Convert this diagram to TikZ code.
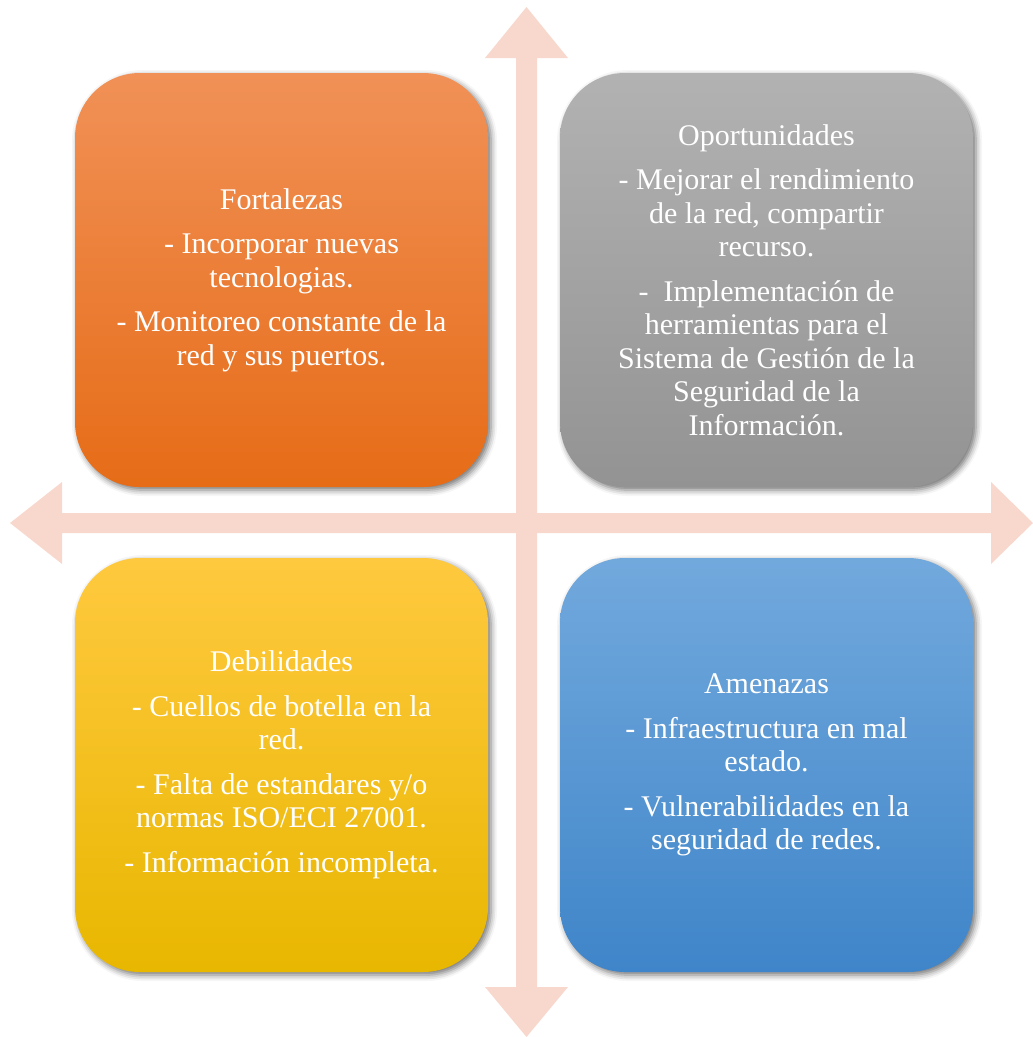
\documentclass[tikz,border=0pt]{standalone}
\usepackage{fontspec}
\setmainfont{Liberation Serif}
\usetikzlibrary{shadows.blur}
\definecolor{arrowpink}{HTML}{F8D8CD}
\definecolor{orT}{HTML}{F19157}
\definecolor{orB}{HTML}{E66C17}
\definecolor{grT}{HTML}{B2B2B2}
\definecolor{grB}{HTML}{939393}
\definecolor{yeT}{HTML}{FFC93F}
\definecolor{yeB}{HTML}{E8B700}
\definecolor{blT}{HTML}{72A9DD}
\definecolor{blB}{HTML}{3F85C9}
\tikzset{
  quad/.style={rounded corners=65pt, minimum width=413pt, minimum height=414pt,
    inner sep=0pt, text=white, align=center,
    font=\fontsize{30}{33.5}\selectfont,
    blur shadow={shadow xshift=3pt, shadow yshift=-3pt, shadow blur radius=6pt, shadow opacity=55}},
  cross/.style={fill=arrowpink, draw=none}
}
\begin{document}
\begin{tikzpicture}[x=1pt,y=-1pt]
\useasboundingbox (0,0) rectangle (1033,1037);
% vertical double arrow
\fill[cross] (526.5,7) -- (568,58) -- (537,58) -- (537,987) -- (568,987) -- (526.5,1037)
  -- (485,987) -- (516,987) -- (516,58) -- (485,58) -- cycle;
% horizontal double arrow
\fill[cross] (10,523) -- (62,482) -- (62,513) -- (991,513) -- (991,482) -- (1033,523)
  -- (991,564) -- (991,533) -- (62,533) -- (62,564) -- cycle;
% boxes
\node[quad, top color=orT, bottom color=orB] (fort) at (281.5,280)
  {Fortalezas\\[11pt]- Incorporar nuevas\\tecnologias.\\[11pt]- Monitoreo constante de la\\red y sus puertos.};
\node[quad, top color=grT, bottom color=grB] (opor) at (766.5,280)
  {Oportunidades\\[11pt]- Mejorar el rendimiento\\de la red, compartir\\recurso.\\[11pt]-~ Implementación de\\herramientas para el\\Sistema de Gestión de la\\Seguridad de la\\Información.};
\node[quad, top color=yeT, bottom color=yeB] (debi) at (281.5,765)
  {Debilidades\\[11pt]- Cuellos de botella en la\\red.\\[11pt]- Falta de estandares y/o\\normas ISO/ECI 27001.\\[11pt]- Información incompleta.};
\node[quad, top color=blT, bottom color=blB] (amen) at (766.5,765)
  {Amenazas\\[11pt]- Infraestructura en mal\\estado.\\[11pt]- Vulnerabilidades en la\\seguridad de redes.};
\end{tikzpicture}
\end{document}
